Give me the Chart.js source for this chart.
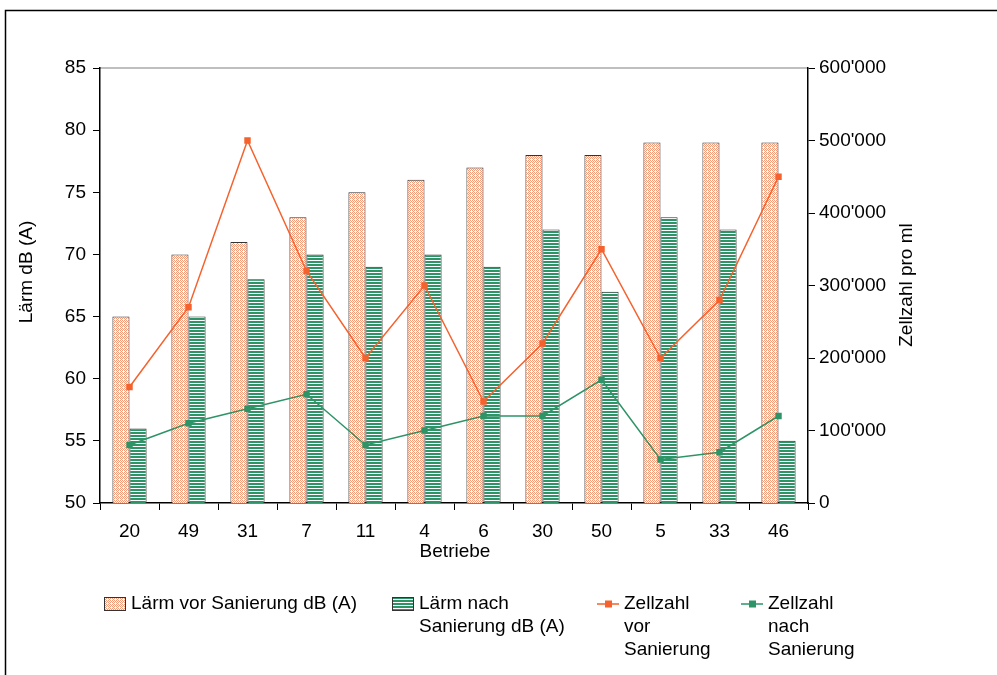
<!DOCTYPE html>
<html>
<head>
<meta charset="utf-8">
<script src="https://cdn.jsdelivr.net/npm/chart.js@4.4.1/dist/chart.umd.min.js"></script>
<style>
  html, body { margin: 0; padding: 0; background: #fff; }
  #wrap { width: 997px; height: 675px; position: relative; }
</style>
</head>
<body>
<div id="wrap"><canvas id="chart"></canvas></div>
<script>
// ---------- DATA ----------
const categories = ["20", "49", "31", "7", "11", "4", "6", "30", "50", "5", "33", "46"];
const laermVor = [65, 70, 71, 73, 75, 76, 77, 78, 78, 79, 79, 79];
const laermNach = [56, 65, 68, 70, 69, 70, 69, 72, 67, 73, 72, 55];
const zellVor = [160000, 270000, 500000, 320000, 200000, 300000, 140000, 220000, 350000, 200000, 280000, 450000];
const zellNach = [80000, 110000, 130000, 150000, 80000, 100000, 120000, 120000, 170000, 60000, 70000, 120000];
const seriesLabels = [["Lärm vor Sanierung dB (A)"], ["Lärm nach", "Sanierung dB (A)"], ["Zellzahl", "vor", "Sanierung"], ["Zellzahl", "nach", "Sanierung"]];

const FONT = "Liberation Sans, Arial, sans-serif";
const FS = 19;
const ORANGE = "#f5622d";
const GREEN = "#2e9467";

// ---------- PATTERNS ----------
function zigzagPattern() {
  const c = document.createElement("canvas");
  c.width = 4; c.height = 4;
  const g = c.getContext("2d");
  g.fillStyle = "#fff"; g.fillRect(0, 0, 4, 4);
  g.fillStyle = "#f39a78";
  [[0,0],[2,0],[1,1],[3,1],[0,2],[2,2],[1,1],[1,3]].forEach(([x, y]) => g.fillRect(x, y, 1, 1));
  return g.createPattern(c, "repeat");
}
function stripePattern() {
  const c = document.createElement("canvas");
  c.width = 4; c.height = 3;
  const g = c.getContext("2d");
  g.fillStyle = "#fff"; g.fillRect(0, 0, 4, 3);
  g.fillStyle = GREEN; g.fillRect(0, 0, 4, 2);
  return g.createPattern(c, "repeat");
}
const patVor = zigzagPattern();
const patNach = stripePattern();

function swiss(v) {
  return String(v).replace(/\B(?=(\d{3})+(?!\d))/g, "'");
}

// ---------- PLUGIN: frame, titles, legend ----------
const decor = {
  id: "decor",
  beforeDraw(chart) {
    const ctx = chart.ctx, a = chart.chartArea;
    ctx.save();
    ctx.fillStyle = "#fff";
    ctx.fillRect(0, 0, chart.width, chart.height);
    ctx.strokeStyle = "#000"; ctx.lineWidth = 1.5;
    ctx.strokeRect(5.5, 10.5, chart.width + 10, chart.height + 10);
    ctx.strokeStyle = "#aaa"; ctx.lineWidth = 1.5;
    ctx.beginPath(); ctx.moveTo(a.left, a.top); ctx.lineTo(a.right, a.top); ctx.stroke();
    ctx.restore();
  },
  afterDraw(chart) {
    const ctx = chart.ctx;
    ctx.save();
    ctx.fillStyle = "#000";
    ctx.font = FS + "px " + FONT;
    ctx.textAlign = "center"; ctx.textBaseline = "middle";
    ctx.fillText("Betriebe", 455, 552);
    ctx.save(); ctx.translate(27, 272); ctx.rotate(-Math.PI / 2);
    ctx.fillText("Lärm dB (A)", 0, 0); ctx.restore();
    ctx.save(); ctx.translate(907, 285); ctx.rotate(-Math.PI / 2);
    ctx.fillText("Zellzahl pro ml", 0, 0); ctx.restore();

    // legend
    const ds = chart.data.datasets;
    const xs = [104, 392, 597, 741];
    const y0 = 604, lh = 23;
    ds.forEach((d, i) => {
      const x = xs[i];
      if (d.type === "bar") {
        ctx.fillStyle = d.backgroundColor;
        ctx.fillRect(x, y0 - 7, 22, 14);
        ctx.strokeStyle = "#333"; ctx.lineWidth = 1;
        ctx.strokeRect(x + 0.5, y0 - 6.5, 21, 13);
      } else {
        ctx.strokeStyle = d.borderColor; ctx.lineWidth = 1.5;
        ctx.beginPath(); ctx.moveTo(x, y0); ctx.lineTo(x + 22, y0); ctx.stroke();
        ctx.fillStyle = d.borderColor;
        ctx.fillRect(x + 8, y0 - 3.5, 7, 7);
      }
      ctx.fillStyle = "#000";
      ctx.textAlign = "left";
      seriesLabels[i].forEach((t, k) => ctx.fillText(t, x + 27, y0 + k * lh));
    });
    ctx.restore();
  }
};

// ---------- CHART ----------
new Chart(document.getElementById("chart").getContext("2d"), {
  data: {
    labels: categories,
    datasets: [
      { type: "bar", label: seriesLabels[0].join(" "), data: laermVor, yAxisID: "y", backgroundColor: patVor, borderColor: "#333", borderWidth: 1, order: 2, categoryPercentage: 0.58, barPercentage: 1 },
      { type: "bar", label: seriesLabels[1].join(" "), data: laermNach, yAxisID: "y", backgroundColor: patNach, borderColor: "#333", borderWidth: 1, order: 2, categoryPercentage: 0.58, barPercentage: 1 },
      { type: "line", label: seriesLabels[2].join(" "), data: zellVor, yAxisID: "y1", borderColor: ORANGE, backgroundColor: ORANGE, borderWidth: 1.5, pointStyle: "rect", pointRadius: 3.5, tension: 0, order: 1 },
      { type: "line", label: seriesLabels[3].join(" "), data: zellNach, yAxisID: "y1", borderColor: GREEN, backgroundColor: GREEN, borderWidth: 1.5, pointStyle: "rect", pointRadius: 3.5, tension: 0, order: 1 }
    ]
  },
  options: {
    responsive: true, maintainAspectRatio: false, animation: false,
    layout: { padding: { top: 68, left: 0, right: 0, bottom: 0 } },
    plugins: { legend: { display: false }, tooltip: { enabled: false } },
    scales: {
      x: {
        offset: true,
        grid: { offset: true, drawOnChartArea: false, tickLength: 7, color: "#000", tickColor: "#000" },
        border: { color: "#000", width: 1.5 },
        ticks: { color: "#000", font: { family: FONT, size: FS }, padding: 10, maxRotation: 0 },
        afterFit: s => { s.height = 172; }
      },
      y: {
        position: "left", min: 50, max: 85,
        grid: { drawOnChartArea: false, tickLength: 7, tickColor: "#000" },
        border: { color: "#000", width: 1.5 },
        ticks: { stepSize: 5, color: "#000", font: { family: FONT, size: FS }, padding: 7 },
        afterFit: s => { s.width = 100; }
      },
      y1: {
        position: "right", min: 0, max: 600000,
        grid: { drawOnChartArea: false, tickLength: 7, tickColor: "#000" },
        border: { color: "#000", width: 1.5 },
        ticks: { stepSize: 100000, color: "#000", font: { family: FONT, size: FS }, padding: 4, callback: v => swiss(v) },
        afterFit: s => { s.width = 189; }
      }
    }
  },
  plugins: [decor]
});
</script>
</body>
</html>
